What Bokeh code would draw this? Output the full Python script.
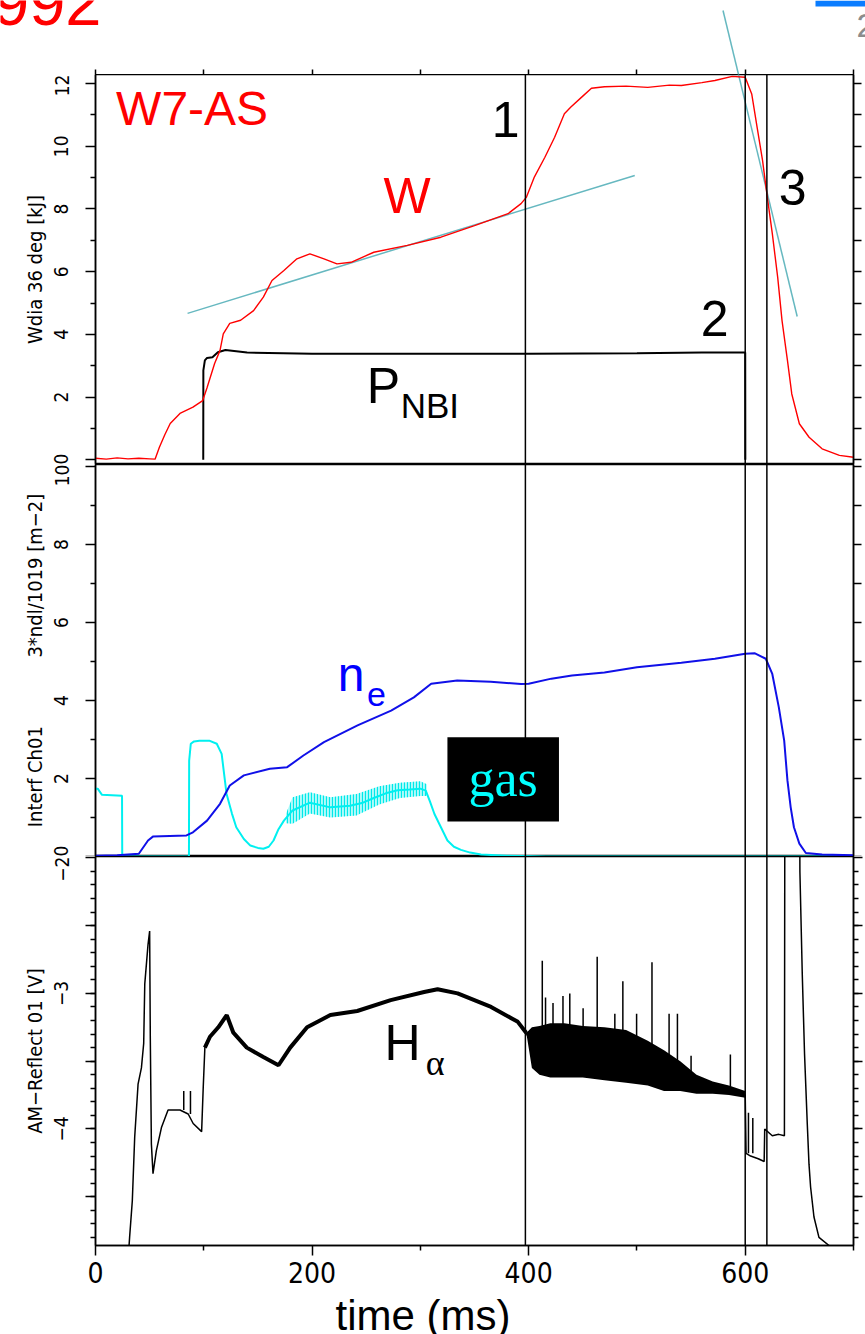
import numpy as np
from bokeh.plotting import figure
from bokeh.layouts import column, row
from bokeh.models import (Range1d, LinearAxis, FixedTicker, Span, Label,
                          BoxAnnotation)
from bokeh.embed import file_html
from bokeh.resources import INLINE

NARROW = '"Liberation Sans Narrow", "DejaVu Sans Condensed", sans-serif'
SANS = "Liberation Sans"
SERIF = "Liberation Serif"
NBSP = "\u00a0"

# ---------------- time base (ms) ----------------
x_ticks = [0, 200, 400, 600]
x_minor = [100, 300, 500, 700]
markers = [397, 600, 620]          # vertical markers 1, 2, 3

# ---------------- top panel: diamagnetic energy W [kJ] and NBI power ----------------
w_t = [0, 10, 20, 30, 40, 50, 55, 59, 64, 69, 78, 90, 99, 103, 110, 115, 118, 124,
       134, 146, 155, 163, 174, 186, 198, 211, 223, 236, 257, 288, 319, 350, 381,
       393, 398, 405, 415, 424, 433, 439, 450, 458, 470, 490, 510, 530, 541, 560,
       572, 588, 600, 606, 611, 616, 620, 625, 630, 634, 639, 643, 650, 659, 671,
       687, 700]
w_v = [0.05, 0.02, 0.06, 0.03, 0.05, 0.03, 0.02, 0.4, 0.8, 1.16, 1.48, 1.68, 1.89,
       2.3, 3.07, 3.49, 4.02, 4.35, 4.45, 4.76, 5.19, 5.72, 6.04, 6.41, 6.57, 6.41,
       6.25, 6.3, 6.62, 6.84, 7.1, 7.47, 7.85, 8.17, 8.38, 9.0, 9.65, 10.29, 11.04,
       11.25, 11.6, 11.85, 11.9, 11.92, 11.88, 11.95, 11.94, 12.03, 12.1, 12.23,
       12.2, 11.67, 10.6, 9.55, 8.48, 7.22, 5.82, 4.44, 3.17, 2.1, 1.15, 0.72, 0.35,
       0.14, 0.08]

pnbi_t = [99.5, 99.6, 101, 103, 108, 113, 120, 140, 200, 300, 400, 500, 560, 600, 600.1]
pnbi_v = [0.0, 2.85, 3.17, 3.25, 3.27, 3.43, 3.5, 3.42, 3.38, 3.38, 3.38, 3.4, 3.42, 3.42, 0.0]

# straight-line fits drawn over W
fit1_t = [85, 498]
fit1_v = [4.67, 9.07]
fit2_t = [579.5, 648]
fit2_v = [14.33, 4.57]

# ---------------- middle panel: line density n_e and gas feed ----------------
ne_t = [0, 20, 40, 48.5, 53, 84, 90, 103, 115, 124, 137, 161, 177, 192, 211, 242,
        273, 294, 310, 334, 365, 393, 400, 421, 440, 470, 500, 541, 572, 600, 609,
        619, 625, 631, 636, 639, 642, 645, 650, 656, 671, 700]
ne_v = [0.02, 0.03, 0.07, 0.41, 0.51, 0.54, 0.62, 0.92, 1.35, 1.82, 2.08, 2.25, 2.29,
        2.59, 2.93, 3.36, 3.74, 4.08, 4.43, 4.51, 4.48, 4.42, 4.43, 4.56, 4.64, 4.72,
        4.85, 4.97, 5.07, 5.2, 5.21, 5.07, 4.68, 3.83, 2.97, 1.95, 1.26, 0.75, 0.33,
        0.09, 0.05, 0.03]

gas_t = [0, 2, 6, 24.5, 24.7, 86.3, 86.5, 88, 91, 96, 105, 112, 116.5, 121, 126, 130,
         137, 143, 150, 155, 160, 164.4, 169, 174, 182, 198, 217, 235, 247, 257, 268,
         279, 290, 300, 305, 309, 313, 319, 325, 331, 337.5, 346, 356, 380, 416, 700]
gas_v = [1.74, 1.74, 1.58, 1.56, 0.0, 0.0, 2.46, 2.89, 2.95, 2.97, 2.97, 2.89, 2.63,
         1.61, 1.1, 0.75, 0.45, 0.28, 0.22, 0.2, 0.25, 0.41, 0.7, 0.92, 1.18, 1.38,
         1.26, 1.3, 1.38, 1.5, 1.62, 1.7, 1.72, 1.74, 1.69, 1.4, 1.09, 0.75, 0.41,
         0.25, 0.17, 0.1, 0.05, 0.02, 0.0, 0.0]

# fluctuation envelope of the gas signal
gas_band_t = [176, 182, 198, 217, 241, 262, 281, 300, 306]
gas_band_hi = [1.1, 1.52, 1.65, 1.52, 1.6, 1.8, 1.89, 1.93, 1.85]
gas_band_lo = [0.85, 0.84, 1.1, 1.0, 1.05, 1.33, 1.5, 1.55, 1.55]

# ---------------- bottom panel: H-alpha (AM-Reflect 01 [V]) ----------------
ha_t = [30.9, 31.5, 34, 36.2, 39.3, 42.4, 44.5, 45.5, 48.5, 50, 50.6, 51.6, 53.1, 56.2,
        60.9, 67, 78, 85.6, 90.2, 98, 99.5, 101, 105.7, 113.4, 121.2, 127.3, 139.7,
        155, 169, 179.8, 195.4, 216.9, 241.7, 272.6, 303.5, 315.9, 334.4, 365.3, 390,
        397.7, 405, 420, 440, 460, 480, 500, 520, 540, 560, 580, 600, 600.8, 605, 612,
        617.5, 618, 625, 631, 636.2, 636.6, 650.2, 650.5, 652.7, 654.8, 657.3, 658.9,
        660.4, 663.5, 668.1, 677.4]
ha_v = [-4.87, -4.80, -4.53, -4.06, -3.67, -3.55, -3.37, -2.93, -2.64, -2.54, -3.32,
        -4.11, -4.33, -4.16, -3.99, -3.86, -3.86, -3.89, -3.96, -4.02, -3.69, -3.40,
        -3.32, -3.25, -3.16, -3.29, -3.40, -3.47, -3.53, -3.40, -3.25, -3.16, -3.13,
        -3.05, -2.99, -2.97, -3.00, -3.10, -3.21, -3.29, -3.42, -3.43, -3.43, -3.45,
        -3.50, -3.52, -3.57, -3.62, -3.66, -3.72, -3.75, -4.18, -4.20, -4.22, -4.24,
        -4.00, -4.05, -4.04, -4.05, -1.5, -1.5, -2.10, -2.86, -3.45, -3.96, -4.26,
        -4.43, -4.65, -4.80, -4.86]

# fluctuation envelope after marker 1
ha_band_t = [398, 403, 410, 420, 433, 450, 470, 490, 510, 525, 540, 555, 570, 585, 600]
ha_band_hi = [-3.29, -3.25, -3.24, -3.22, -3.22, -3.24, -3.25, -3.27, -3.35, -3.42,
              -3.50, -3.60, -3.65, -3.68, -3.72]
ha_band_lo = [-3.30, -3.55, -3.60, -3.62, -3.62, -3.62, -3.64, -3.66, -3.68, -3.72,
              -3.72, -3.74, -3.74, -3.75, -3.77]

# individual bursts (time, base, peak)
spike_t = [81.5, 87.7, 412.6, 415.6, 422.5, 431.7, 438, 450.3, 463.3, 479.6, 487,
           499.7, 513.9, 529.7, 537.4, 550, 586.3, 603, 607]
spike_base = [-3.86, -3.89, -3.30, -3.30, -3.30, -3.30, -3.30, -3.30, -3.35, -3.35,
              -3.40, -3.40, -3.45, -3.50, -3.50, -3.60, -3.70, -4.18, -4.18]
spike_top = [-3.72, -3.72, -2.76, -3.03, -3.07, -3.02, -3.00, -3.11, -2.73, -3.15,
             -2.91, -3.15, -2.77, -3.15, -3.15, -3.46, -3.45, -3.88, -3.92]

# ---------------- layout ----------------
FIG_W = 865
BORDER_L, BORDER_R = 95, 12
FRAME_W = FIG_W - BORDER_L - BORDER_R
PX_PER_MS = FRAME_W / 700
HEADER_H, TOP_H, MID_H, BOT_H, FOOT_H = 74, 390, 392, 437, 41
TOP_Y = (-0.15, 12.29)
MID_Y = (0, 10.05)
BOT_Y = (-4.86, -1.99)
BASE = 0.39     # alphabetic-baseline correction, fraction of the font size

xr = Range1d(0, 700)


def hidden_labels(axis, ticks):
    axis.major_label_overrides = {t: "" for t in ticks}
    axis.major_label_standoff = 0


def make_fig(height, yr, border_bottom=0):
    p = figure(width=FIG_W, height=height, x_range=xr, y_range=Range1d(*yr),
               output_backend="svg", toolbar_location=None,
               x_axis_location=None, y_axis_location=None,
               min_border_left=BORDER_L, min_border_right=BORDER_R,
               min_border_top=0, min_border_bottom=border_bottom,
               background_fill_color="white", border_fill_color="white")
    p.grid.visible = False
    p.outline_line_color = "black"
    p.outline_line_width = 1.5
    for m in markers:
        p.add_layout(Span(location=m, dimension="height", line_color="black",
                          line_width=1.5))
    return p


def bare_fig(height, xrng, yrng):
    p = figure(width=FIG_W, height=height, x_range=xrng, y_range=yrng,
               output_backend="svg", toolbar_location=None,
               x_axis_location=None, y_axis_location=None,
               min_border_left=0, min_border_right=0, min_border_top=0,
               min_border_bottom=0, background_fill_color="white",
               border_fill_color="white")
    p.grid.visible = False
    p.outline_line_color = None
    return p


def add_y_axes(p, major, minor, label, right_major, right_minor, overrides=None,
               right_long=8, right_short=0):
    left = LinearAxis(ticker=FixedTicker(ticks=major, minor_ticks=minor),
                      axis_label=label)
    left.axis_line_color = "black"
    left.axis_line_width = 1.5
    left.major_tick_out = 10
    left.major_tick_in = 0
    left.minor_tick_out = 5
    left.minor_tick_in = 0
    left.major_tick_line_width = 1.5
    left.minor_tick_line_width = 1.5
    left.major_label_orientation = "vertical"
    left.major_label_text_font = NARROW
    left.major_label_text_font_size = "19px"
    left.major_label_text_color = "black"
    left.major_label_standoff = 17
    left.axis_label_text_font = NARROW
    left.axis_label_text_font_size = "20px"
    left.axis_label_text_font_style = "normal"
    left.axis_label_text_color = "black"
    left.axis_label_standoff = 5
    if overrides:
        left.major_label_overrides = overrides
    p.add_layout(left, "left")

    right = LinearAxis(ticker=FixedTicker(ticks=right_major, minor_ticks=right_minor))
    right.axis_line_color = "black"
    right.axis_line_width = 1.5
    right.major_tick_out = right_long
    right.major_tick_in = 0
    right.minor_tick_out = right_short
    right.minor_tick_in = 0
    right.major_tick_line_width = 1.5
    right.minor_tick_line_width = 1.5
    hidden_labels(right, right_major)
    p.add_layout(right, "right")


def big_label(p, text, x, y, px_per_unit, color="black", size=50, font=SANS,
              align="left"):
    # y is the baseline in data units
    p.add_layout(Label(x=x, y=y + BASE * size / px_per_unit, text=text,
                       text_color=color, text_font=font,
                       text_font_size=f"{size}px", text_align=align,
                       text_baseline="alphabetic"))


def screen_label(p, text, x, y, color, size, align):
    # x, y: screen offsets of the baseline from the frame's lower-left corner
    p.add_layout(Label(x=x, y=y + BASE * size, x_units="screen", y_units="screen",
                       text=text, text_color=color, text_font=SANS,
                       text_font_size=f"{size}px", text_align=align,
                       text_baseline="alphabetic"))


top_ppu = TOP_H / (TOP_Y[1] - TOP_Y[0])
mid_ppu = MID_H / (MID_Y[1] - MID_Y[0])
bot_ppu = (BOT_H - 48) / (BOT_Y[1] - BOT_Y[0])

# ---- header strip above the top frame (continues the top panel's scales) ----
header = bare_fig(HEADER_H,
                  Range1d(-BORDER_L / PX_PER_MS, (FIG_W - BORDER_L) / PX_PER_MS),
                  Range1d(TOP_Y[1], TOP_Y[1] + HEADER_H / top_ppu))
above = LinearAxis(ticker=FixedTicker(ticks=sorted(x_ticks + x_minor), minor_ticks=[]))
above.axis_line_color = None
above.major_tick_out = 0
above.major_tick_in = 5
above.major_tick_line_width = 1.5
above.major_tick_line_color = "black"
hidden_labels(above, x_ticks + x_minor)
header.add_layout(above, "below")
header.line(fit2_t, fit2_v, line_color="#66b8c0", line_width=1.5)
screen_label(header, "1992", 101, HEADER_H - 27, "#ff0000", 65, "right")
screen_label(header, "2", 856, HEADER_H - 38, "#8c8c8c", 34, "left")
header.add_layout(BoxAnnotation(left=815, right=865, bottom=HEADER_H - 6, top=HEADER_H,
                                left_units="screen", right_units="screen",
                                bottom_units="screen", top_units="screen",
                                fill_color="#0a7cff", fill_alpha=1.0, line_alpha=0))

# ---- top panel ----
top = make_fig(TOP_H, TOP_Y)
add_y_axes(top, [0, 2, 4, 6, 8, 10, 12], [1, 3, 5, 7, 9, 11], "Wdia 36 deg [kJ]",
           list(range(0, 13)), [])
top.line(fit1_t, fit1_v, line_color="#66b8c0", line_width=1.5)
top.line(fit2_t, fit2_v, line_color="#66b8c0", line_width=1.5)
top.line(pnbi_t, pnbi_v, line_color="black", line_width=2)
top.line(w_t, w_v, line_color="#ff0000", line_width=1.4)

big_label(top, "W7-AS", 19, 10.61, top_ppu, color="#ff0000", size=48)
big_label(top, "1", 366, 10.24, top_ppu)
big_label(top, "W", 266, 7.79, top_ppu, color="#ff0000")
big_label(top, "2", 559, 3.87, top_ppu)
big_label(top, "3", 631, 8.05, top_ppu)
big_label(top, "P", 250.4, 1.73, top_ppu)
big_label(top, "NBI", 281.8, 1.31, top_ppu, size=35)

# ---- middle panel ----
mid = make_fig(MID_H, MID_Y)
add_y_axes(mid, [0, 2, 4, 6, 8, 10], [1, 3, 5, 7, 9],
           "Interf Ch01" + NBSP * 12 + "3*ndl/1019 [m\u22122]", list(range(0, 11)), [])
mid.varea(x=gas_band_t, y1=gas_band_lo, y2=gas_band_hi, fill_color="#00f0f0",
          fill_alpha=0.3, hatch_pattern="vertical_line", hatch_color="#00e8e8",
          hatch_scale=3, hatch_weight=1.2)
mid.line(gas_t, gas_v, line_color="#00f0f0", line_width=2)
mid.line(ne_t, ne_v, line_color="#1010e8", line_width=2)
mid.add_layout(BoxAnnotation(left=325, right=428, bottom=0.9, top=3.06,
                             fill_color="black", fill_alpha=1.0, line_alpha=0))
big_label(mid, "gas", 376.5, 1.49, mid_ppu, color="#00ffff", size=52, font=SERIF,
          align="center")
big_label(mid, "n", 223.6, 4.18, mid_ppu, color="#0000ff", size=48)
big_label(mid, "e", 250.8, 3.82, mid_ppu, color="#0000ff", size=34)

# ---- bottom panel ----
bot = make_fig(BOT_H, BOT_Y, border_bottom=48)
ha_major = [-2, -2.5, -3, -3.5, -4, -4.5]
ha_minor = [round(-4.8 + 0.1 * k, 1) for k in range(28)]
ha_labels = {-2: "\u22122", -3: "\u22123", -4: "\u22124", -2.5: "", -3.5: "", -4.5: ""}
add_y_axes(bot, ha_major, ha_minor, "AM\u2212Reflect 01 [V]", ha_major, ha_minor,
           overrides=ha_labels, right_long=9, right_short=5)
below = LinearAxis(ticker=FixedTicker(ticks=x_ticks, minor_ticks=x_minor))
below.axis_line_color = "black"
below.axis_line_width = 1.5
below.major_tick_out = 10
below.major_tick_in = 0
below.minor_tick_out = 5
below.minor_tick_in = 0
below.major_tick_line_width = 1.5
below.minor_tick_line_width = 1.5
below.major_label_text_font = NARROW
below.major_label_text_font_size = "28px"
below.major_label_text_color = "black"
below.major_label_standoff = 6
bot.add_layout(below, "below")

thick = [i for i, t in enumerate(ha_t) if 101 <= t <= 398]
bot.line(ha_t, ha_v, line_color="black", line_width=1.5)
bot.line([ha_t[i] for i in thick], [ha_v[i] for i in thick], line_color="black",
         line_width=4)
bot.varea(x=ha_band_t, y1=ha_band_lo, y2=ha_band_hi, fill_color="black")
bot.segment(x0=spike_t, y0=spike_base, x1=spike_t, y1=spike_top, line_color="black",
            line_width=1.5)
big_label(bot, "H", 267, -3.51, bot_ppu)
big_label(bot, "\u03b1", 305, -3.62, bot_ppu, size=36, font=SERIF)

# ---- footer with the time-axis title ----
footer = bare_fig(FOOT_H, Range1d(0, FIG_W), Range1d(0, FOOT_H))
screen_label(footer, "time (ms)", 422.5, 3, "black", 42, "center")

# header and footer sit in their own rows so their frames span the full width
page = column(row(header), top, mid, bot, row(footer), spacing=0)
open("out.html", "w").write(file_html(page, INLINE))
